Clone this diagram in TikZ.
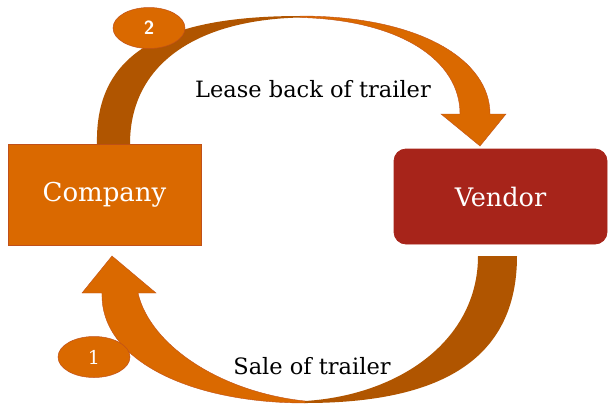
\documentclass[tikz,border=0pt]{standalone}
\usepackage{fontspec}
\setmainfont{DejaVu Serif}
\usetikzlibrary{shapes.geometric}
\definecolor{orng}{HTML}{DA6900}
\definecolor{dorng}{HTML}{B05500}
\definecolor{vred}{HTML}{A7241A}
\definecolor{edge}{HTML}{C0501A}
\tikzset{
  boxstyle/.style={draw=edge, line width=0.8pt, text=white, inner sep=0pt},
  numstyle/.style={ellipse, fill=orng, draw=edge, line width=0.5pt, text=white, minimum width=72pt, minimum height=41pt, inner sep=0pt, font=\fontsize{19}{22}\selectfont},
  lbl/.style={font=\fontsize{22.5}{26}\selectfont, text=black, inner sep=0pt},
  light/.style={fill=orng, draw=edge, line width=0.4pt},
  dark/.style={fill=dorng}
}
\begin{document}
\begin{tikzpicture}[x=1pt,y=-1pt]
\useasboundingbox (0,0) rectangle (608,405);
% boxes
\node[boxstyle, fill=orng, minimum width=193pt, minimum height=101pt, font=\fontsize{26}{30}\selectfont] (company) at (104.5,194.5) {Company};
\node[boxstyle, fill=vred, draw=vred, rounded corners=12pt, minimum width=213pt, minimum height=95pt, font=\fontsize{25.5}{30}\selectfont] (vendor) at (500.5,196.5) {Vendor};
% top arrow (lease back)
\fill[light] (300,16) .. controls (420,16) and (490,60) .. (490,114) -- (506,114) -- (480,146) -- (441,114) -- (460,114) .. controls (460,60) and (400,20) .. (300,17.5) -- cycle;
\fill[dark] (97,144) .. controls (95,55) and (160,16) .. (300,16) -- (300,17.5) .. controls (195,20) and (130,65) .. (130,144) -- cycle;
% bottom arrow (sale)
\fill[light] (305,403) .. controls (190,403) and (100,360) .. (102,293) -- (82,293) -- (112,256) -- (156,293) -- (138,293) .. controls (150,345) and (220,392) .. (305,401) -- cycle;
\fill[dark] (517,256) .. controls (517,360) and (440,403) .. (305,403) -- (305,401) .. controls (400,395) and (478,340) .. (478,256) -- cycle;
% number ellipses
\node[numstyle, font=\sffamily\bfseries\fontsize{19}{22}\selectfont] (n2) at (149,28) {2};
\node[numstyle] (n1) at (94,357) {1};
% labels
\node[lbl] (lease) at (313,89) {Lease back of trailer};
\node[lbl] (sale) at (312,366) {Sale of trailer};
\end{tikzpicture}
\end{document}
